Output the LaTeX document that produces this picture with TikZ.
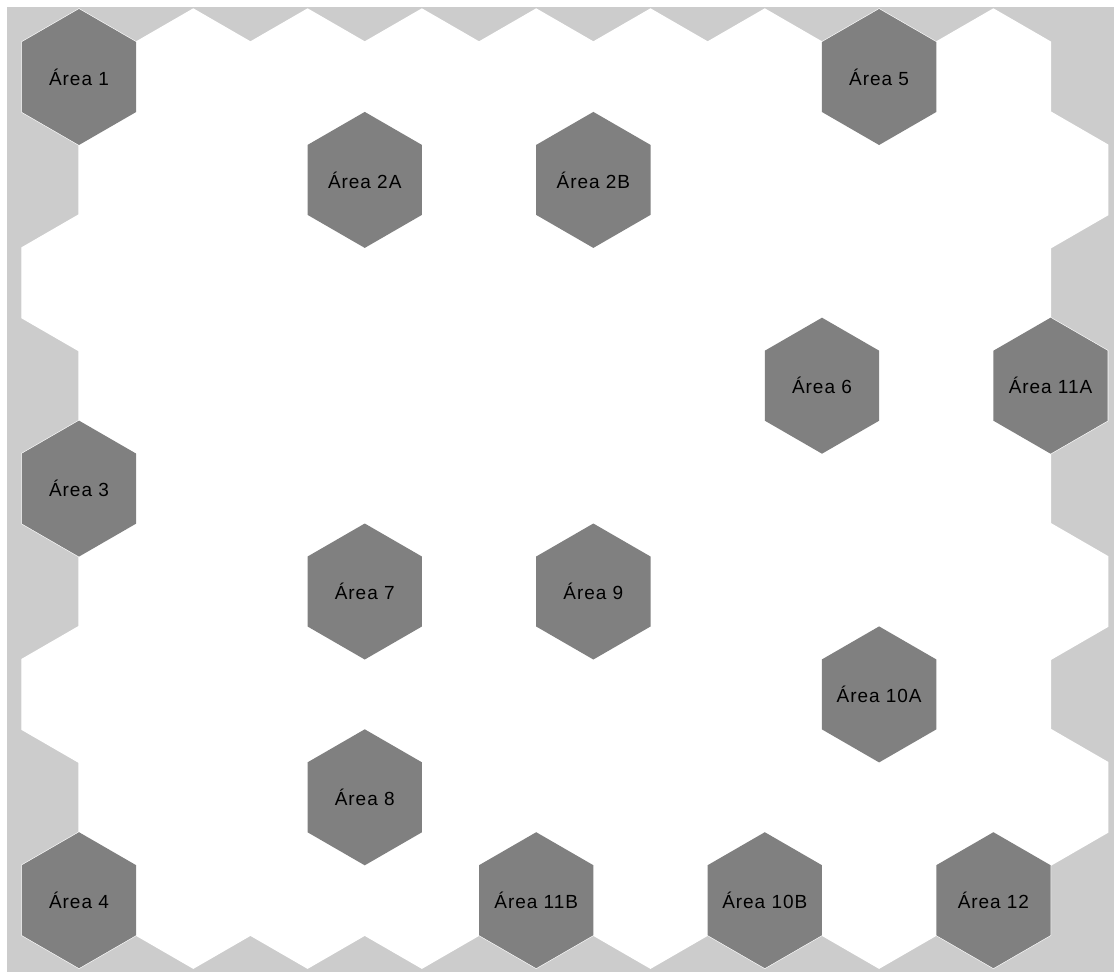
\documentclass[tikz,border=0pt]{standalone}
\usepackage{fontspec}
\setmainfont{Liberation Sans}[LetterSpace=5]
\definecolor{bggray}{HTML}{CCCCCC}
\definecolor{areagray}{HTML}{808080}
\newcommand{\hexcell}{+(-57.15,-35) -- +(0,-68) -- +(57.15,-35) -- +(57.15,35) -- +(0,68) -- +(-57.15,35) -- cycle}
\tikzset{
  whitehex/.style={fill=white,draw=white,line width=1.2pt,line join=miter},
  areahex/.style={fill=areagray},
  arealabel/.style={text=black,inner sep=0pt,font=\fontsize{19}{21}\selectfont}
}
\begin{document}
\begin{tikzpicture}[x=1pt,y=-1pt]
\useasboundingbox (0,0) rectangle (1114,972);
\fill[white] (0,0) rectangle (1114,972);
\fill[bggray] (7,7) rectangle (1114,972);
% white grid cells
\foreach \r in {0,...,8}{
  \foreach \j in {0,...,8}{
    \pgfmathsetmacro{\cx}{79+114.3*\j+57.15*mod(\r,2)}
    \pgfmathsetmacro{\cy}{77+102.9*\r}
    \path[whitehex] (\cx,\cy) \hexcell;
  }
}
% labelled areas
\foreach \cx/\cy/\nm/\txt in {
  79/77/a1/{Área 1},
  879.1/77/a5/{Área 5},
  364.75/179.9/a2a/{Área 2A},
  593.35/179.9/a2b/{Área 2B},
  822.0/385.7/a6/{Área 6},
  1050.55/385.7/a11a/{Área 11A},
  79/488.6/a3/{Área 3},
  364.75/591.5/a7/{Área 7},
  593.35/591.5/a9/{Área 9},
  879.1/694.4/a10a/{Área 10A},
  364.75/797.3/a8/{Área 8},
  79/900.2/a4/{Área 4},
  536.2/900.2/a11b/{Área 11B},
  764.8/900.2/a10b/{Área 10B},
  993.4/900.2/a12/{Área 12}}{
  \fill[areahex] (\cx,\cy) \hexcell;
  \node[arealabel] (\nm) at (\cx,\cy) {\txt};
}
\end{tikzpicture}
\end{document}
